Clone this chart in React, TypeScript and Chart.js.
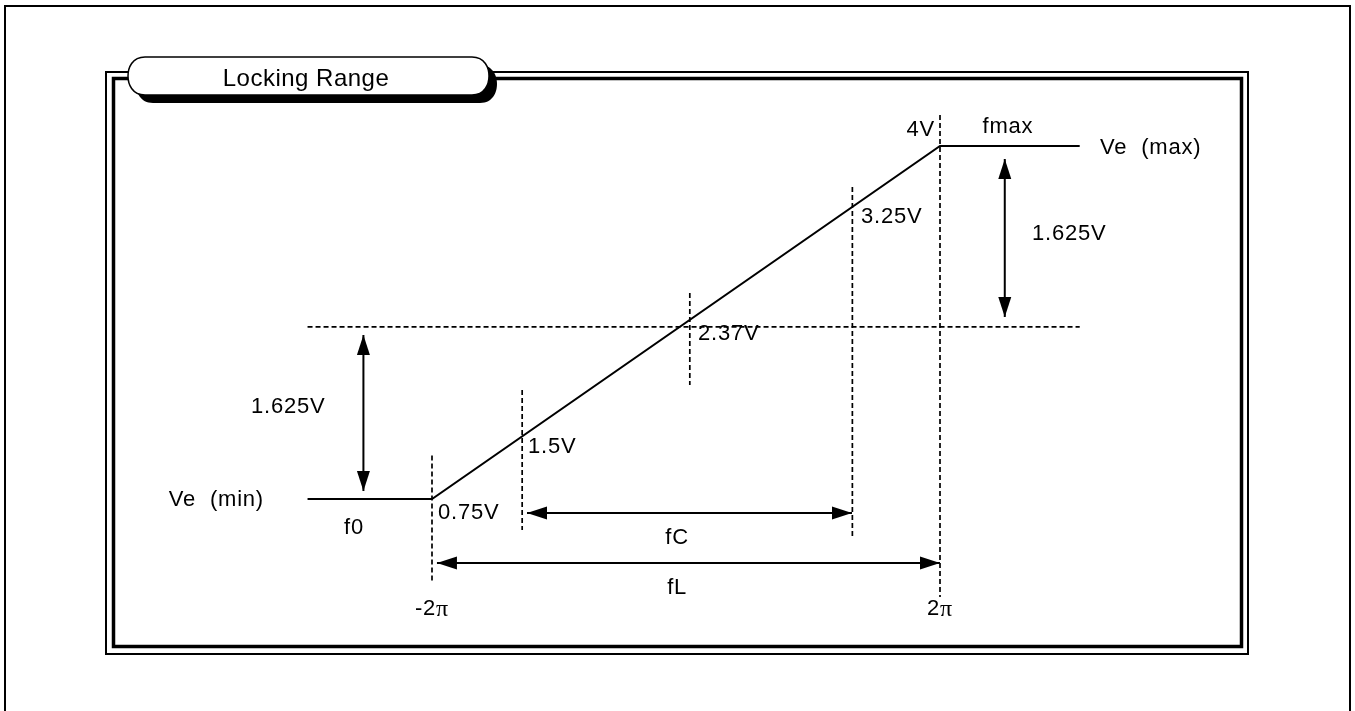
import React, { useEffect, useRef } from "react";
import { Chart, registerables } from "chart.js";

Chart.register(...registerables);

// Transfer characteristic: phase (in units of π) vs control voltage Ve (V)
const curvePhase = [-2.98, -2, 2, 3.1];
const curveVolt = [0.75, 0.75, 4, 4];

// Dashed guide lines [x1, y1, x2, y2] (phase, volt)
const guideLines: number[][] = [
  [-2.98, 2.334, 3.1, 2.334],
  [-2, 1.15, -2, -0.01],
  [-1.29, 1.754, -1.29, 0.465],
  [0.03, 2.647, 0.03, 1.8],
  [1.31, 3.623, 1.31, 0.4],
  [2, 4.285, 2, -0.152],
];

// Double-headed dimension arrows [x1, y1, x2, y2]
const arrowLines: number[][] = [
  [-2.54, 2.26, -2.54, 0.824],
  [2.51, 3.88, 2.51, 2.426],
  [-1.252, 0.621, 1.307, 0.621],
  [-1.961, 0.161, 2, 0.161],
];

// Text labels
const labelTexts = ["Ve  (min)", "f0", "0.75V", "1.5V", "2.37V", "3.25V", "4V", "fmax", "Ve  (max)", "1.625V", "1.625V", "fC", "fL", "-2π", "2π"];
const labelX = [-3.323, -2.614, -1.953, -1.244, 0.094, 1.378, 1.961, 2.535, 3.26, 2.724, -3.425, -0.07, -0.07, -2, 2];
const labelY = [0.741, 0.48, 0.625, 1.229, 2.27, 3.35, 4.15, 4.18, 3.982, 3.19, 1.597, 0.39, -0.07, -0.265, -0.265];
const labelAlign = ["right", "center", "left", "left", "left", "left", "right", "center", "left", "left", "left", "center", "center", "center", "center"];

const chartTitle = "Locking Range";

const X_MIN = -5, X_MAX = 5, Y_MIN = -0.5, Y_MAX = 5;
const FONT = '"Liberation Sans", Arial, sans-serif';
const SPACING = "0.8px";

const framePlugin = {
  id: "frame",
  beforeDraw(chart: any) {
    const ctx = chart.ctx;
    const W = chart.width, H = chart.height;
    ctx.save();
    ctx.fillStyle = "#fff";
    ctx.fillRect(0, 0, W, H);
    ctx.strokeStyle = "#000";
    // outer page frame
    ctx.lineWidth = 2;
    ctx.strokeRect(5, 6, 1345, H + 20);
    // inner double frame
    ctx.lineWidth = 2;
    ctx.strokeRect(106, 72, 1142, 582);
    ctx.lineWidth = 3.5;
    ctx.strokeRect(113.5, 78.5, 1128, 568);
    // title tab
    const tab = (ox: number, oy: number) => {
      const l = 128 + ox, r = 489 + ox, t = 57 + oy, b = 95 + oy, rad = 17;
      const m = (t + b) / 2;
      ctx.beginPath();
      ctx.moveTo(l + rad, t);
      ctx.lineTo(r - rad, t);
      ctx.bezierCurveTo(r - 4, t, r, m - 8, r, m);
      ctx.bezierCurveTo(r, m + 8, r - 4, b, r - rad, b);
      ctx.lineTo(l + rad, b);
      ctx.bezierCurveTo(l + 4, b, l, m + 8, l, m);
      ctx.bezierCurveTo(l, m - 8, l + 4, t, l + rad, t);
      ctx.closePath();
    };
    tab(8, 8);
    ctx.fillStyle = "#000";
    ctx.fill();
    tab(0, 0);
    ctx.fillStyle = "#fff";
    ctx.fill();
    ctx.lineWidth = 1.5;
    ctx.stroke();
    ctx.fillStyle = "#000";
    ctx.font = `24px ${FONT}`;
    ctx.textAlign = "center";
    ctx.textBaseline = "middle";
    try { (ctx as any).letterSpacing = "0.5px"; } catch (e) {}
    ctx.fillText(chartTitle, 306, 79);
    try { (ctx as any).letterSpacing = "0px"; } catch (e) {}
    ctx.restore();
  },
};

const arrowPlugin = {
  id: "arrows",
  afterDatasetsDraw(chart: any) {
    const ctx = chart.ctx;
    ctx.save();
    ctx.fillStyle = "#000";
    chart.data.datasets.forEach((ds: any, i: number) => {
      if (!ds.arrows) return;
      const meta = chart.getDatasetMeta(i);
      const a = meta.data[0], b = meta.data[1];
      const head = (tx: number, ty: number, fx: number, fy: number) => {
        const ang = Math.atan2(ty - fy, tx - fx);
        const len = 20, hw = 6.5;
        ctx.beginPath();
        ctx.moveTo(tx, ty);
        ctx.lineTo(tx - len * Math.cos(ang) + hw * Math.sin(ang), ty - len * Math.sin(ang) - hw * Math.cos(ang));
        ctx.lineTo(tx - len * Math.cos(ang) - hw * Math.sin(ang), ty - len * Math.sin(ang) + hw * Math.cos(ang));
        ctx.closePath();
        ctx.fill();
      };
      head(b.x, b.y, a.x, a.y);
      head(a.x, a.y, b.x, b.y);
    });
    ctx.restore();
  },
};

const labelPlugin = {
  id: "labels",
  afterDraw(chart: any) {
    const ctx = chart.ctx;
    const xs = chart.scales.x, ys = chart.scales.y;
    ctx.save();
    ctx.fillStyle = "#000";
    ctx.textBaseline = "middle";
    try { (ctx as any).letterSpacing = SPACING; } catch (e) {}
    labelTexts.forEach((txt, i) => {
      const px = xs.getPixelForValue(labelX[i]);
      const py = ys.getPixelForValue(labelY[i]);
      const align = labelAlign[i];
      if (txt.includes("π")) {
        const pre = txt.replace("π", "");
        ctx.font = `22px ${FONT}`;
        const w1 = ctx.measureText(pre).width;
        ctx.font = `24px "Liberation Serif", serif`;
        const w2 = ctx.measureText("π").width;
        let x0 = align === "center" ? px - (w1 + w2) / 2 : align === "right" ? px - w1 - w2 : px;
        ctx.textAlign = "left";
        ctx.font = `22px ${FONT}`;
        ctx.fillText(pre, x0, py);
        ctx.font = `24px "Liberation Serif", serif`;
        ctx.fillText("π", x0 + w1, py);
      } else {
        ctx.font = `22px ${FONT}`;
        ctx.textAlign = align as CanvasTextAlign;
        ctx.fillText(txt, px, py);
      }
    });
    try { (ctx as any).letterSpacing = "0px"; } catch (e) {}
    ctx.restore();
  },
};

export default function App() {
  const ref = useRef<HTMLCanvasElement | null>(null);
  useEffect(() => {
    if (!ref.current) return;
    const toPts = (xs: number[], ys: number[]) => xs.map((x, i) => ({ x, y: ys[i] }));
    const datasets: any[] = [
      {
        data: toPts(curvePhase, curveVolt),
        borderColor: "#000",
        borderWidth: 2,
        showLine: true,
        pointRadius: 0,
        clip: false,
      },
      ...guideLines.map((s) => ({
        data: [{ x: s[0], y: s[1] }, { x: s[2], y: s[3] }],
        borderColor: "#000",
        borderWidth: 1.7,
        borderDash: [5, 3],
        showLine: true,
        pointRadius: 0,
        clip: false,
      })),
      ...arrowLines.map((s) => ({
        data: [{ x: s[0], y: s[1] }, { x: s[2], y: s[3] }],
        borderColor: "#000",
        borderWidth: 2,
        showLine: true,
        pointRadius: 0,
        clip: false,
        arrows: true,
      })),
    ];
    const chart = new Chart(ref.current, {
      type: "scatter",
      data: { datasets },
      options: {
        animation: false,
        responsive: true,
        maintainAspectRatio: false,
        events: [],
        layout: { padding: { left: 51, right: 34, top: 37.385, bottom: 76.23 } },
        plugins: { legend: { display: false }, tooltip: { enabled: false } },
        scales: {
          x: { type: "linear", min: X_MIN, max: X_MAX, display: false },
          y: { type: "linear", min: Y_MIN, max: Y_MAX, display: false },
        },
      },
      plugins: [framePlugin, arrowPlugin, labelPlugin],
    } as any);
    return () => chart.destroy();
  }, []);
  return (
    <div style={{ position: "fixed", left: 0, top: 0, width: 1355, height: 711, background: "#fff" }}>
      <canvas ref={ref} />
    </div>
  );
}
